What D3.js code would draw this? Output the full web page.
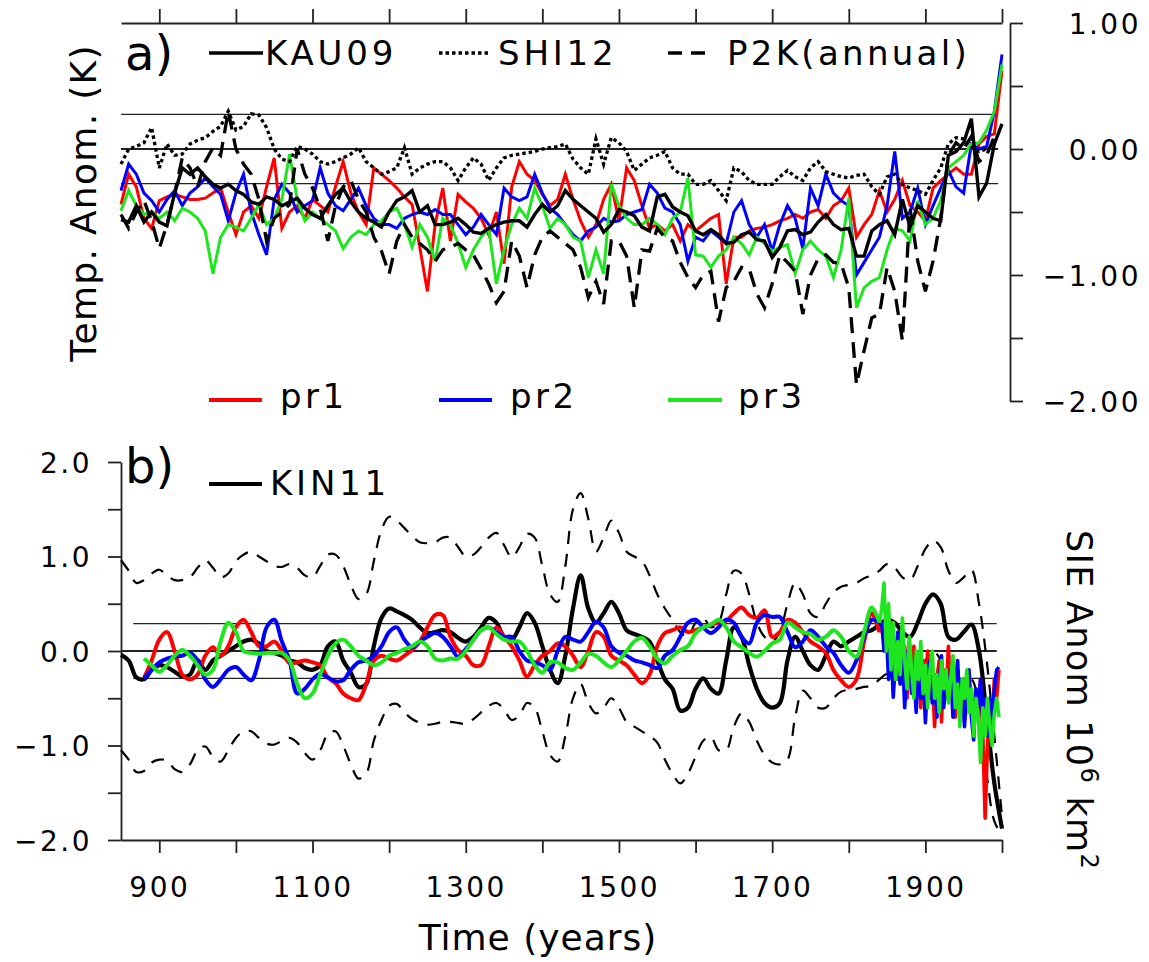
<!DOCTYPE html>
<html><head><meta charset="utf-8">
<script src="https://cdn.jsdelivr.net/npm/d3@7/dist/d3.min.js"></script>
<style>
body{margin:0;background:#fff;}
svg text{font-family:"DejaVu Sans",sans-serif;fill:#000;}
</style></head><body>
<svg id="chart" width="1149" height="962"></svg>
<script>
// ---------- Panel a: temperature anomaly (K), decadal, 850..2000 ----------
const yearsA = d3.range(850, 2001, 10);
const kau09 = [
 -0.56,-0.58,-0.45,-0.58,-0.50,-0.58,-0.61,-0.35,-0.15,-0.20,
 -0.15,-0.22,-0.28,-0.31,-0.28,-0.33,-0.36,-0.42,-0.44,-0.38,
 -0.40,-0.45,-0.42,-0.39,-0.47,-0.52,-0.55,-0.45,-0.36,-0.31,
 -0.42,-0.50,-0.55,-0.58,-0.62,-0.50,-0.41,-0.38,-0.33,-0.50,
 -0.45,-0.60,-0.60,-0.58,-0.55,-0.60,-0.66,-0.67,-0.63,-0.60,
 -0.58,-0.57,-0.57,-0.62,-0.52,-0.44,-0.50,-0.45,-0.33,-0.40,
 -0.45,-0.50,-0.55,-0.66,-0.60,-0.48,-0.50,-0.53,-0.62,-0.65,
 -0.38,-0.36,-0.46,-0.50,-0.53,-0.65,-0.68,-0.64,-0.68,-0.75,
 -0.74,-0.68,-0.66,-0.72,-0.73,-0.86,-0.78,-0.65,-0.64,-0.68,
 -0.66,-0.58,-0.52,-0.60,-0.64,-0.63,-0.85,-0.85,-0.65,-0.60,
 -0.57,-0.68,-0.40,-0.62,-0.45,-0.50,-0.55,-0.57,-0.05,-0.02,
  0.05, 0.24,-0.38,-0.27, 0.04, 0.20];
const shi12 = [
 -0.12, 0.00, 0.02, 0.05, 0.17,-0.15, 0.04,-0.05,-0.04, 0.04,
  0.07, 0.09, 0.14, 0.18, 0.30, 0.15, 0.18, 0.28, 0.27, 0.17,
  0.00,-0.08,-0.10, 0.02, 0.00,-0.04,-0.10,-0.12,-0.10,-0.07,
 -0.04, 0.01,-0.10,-0.15,-0.20,-0.18,-0.15, 0.01,-0.20,-0.15,
 -0.12,-0.10,-0.10,-0.15,-0.25,-0.15,-0.07,-0.12,-0.25,-0.15,
 -0.07,-0.05,-0.04,-0.03,-0.02, 0.00, 0.01, 0.02, 0.04,-0.08,
 -0.15,-0.20, 0.08,-0.12, 0.09, 0.05,-0.02,-0.17,-0.12,-0.07,
 -0.05,-0.02,-0.15,-0.20,-0.20,-0.28,-0.28,-0.25,-0.33,-0.41,
 -0.15,-0.18,-0.25,-0.28,-0.28,-0.28,-0.22,-0.17,-0.22,-0.25,
 -0.15,-0.10,-0.18,-0.20,-0.22,-0.23,-0.21,-0.20,-0.30,-0.36,
 -0.22,-0.20,-0.28,-0.31,-0.33,-0.36,-0.25,-0.15, 0.04, 0.09,
  0.08, 0.02,-0.02, 0.00, null, null];
const p2k = [
 -0.52,-0.63,-0.50,-0.41,-0.57,-0.79,-0.60,-0.35,-0.07,-0.15,
 -0.30,-0.10, 0.01,-0.05, 0.30, 0.00,-0.12,-0.20,-0.40,-0.73,
 -0.55,-0.50,-0.44, 0.00,-0.20,-0.31,-0.47,-0.73,-0.45,-0.30,
 -0.25,-0.40,-0.50,-0.70,-0.81,-0.99,-0.73,-0.60,-0.70,-0.75,
 -0.80,-0.89,-0.80,-0.78,-0.75,-0.80,-0.84,-0.95,-1.07,-1.22,
 -1.13,-0.73,-0.85,-1.10,-0.84,-0.70,-0.65,-0.70,-0.75,-0.80,
 -0.94,-1.18,-1.05,-1.23,-0.73,-0.73,-0.85,-1.26,-0.80,-0.81,
 -0.63,-0.70,-0.73,-0.90,-1.02,-1.10,-1.00,-0.97,-1.37,-1.10,
 -1.05,-0.94,-0.95,-1.15,-1.26,-1.07,-0.84,-0.90,-0.97,-1.31,
 -1.00,-0.87,-0.84,-0.90,-0.91,-1.10,-1.87,-1.60,-1.34,-1.31,
 -0.94,-1.13,-1.52,-0.47,-0.89,-1.13,-0.89,-0.55,-0.05, 0.05,
  0.00, 0.10,-0.10,-0.05, 0.10, null];
const pr1A = [
 -0.44,-0.20,-0.30,-0.55,-0.63,-0.41,-0.38,-0.36,-0.38,-0.40,
 -0.40,-0.39,-0.35,-0.31,-0.50,-0.68,-0.50,-0.45,-0.55,-0.30,
 -0.07,-0.63,-0.50,-0.45,-0.55,-0.40,-0.45,-0.50,-0.30,-0.10,
 -0.35,-0.50,-0.60,-0.15,-0.20,-0.25,-0.31,-0.38,-0.44,-0.78,
 -1.13,-0.60,-0.31,-0.73,-0.36,-0.42,-0.47,-0.55,-0.68,-0.50,
 -0.91,-0.30,-0.10,-0.20,-0.25,-0.36,-0.45,-0.40,-0.20,-0.40,
 -0.57,-0.70,-0.60,-0.40,-0.28,-0.57,-0.15,-0.25,-0.45,-0.63,
 -0.60,-0.65,-0.60,-0.73,-0.60,-0.65,-0.60,-0.55,-0.52,-1.07,
 -0.70,-0.70,-0.65,-0.63,-0.62,-0.60,-0.57,-0.55,-0.52,-0.55,
 -0.50,-0.48,-0.55,-0.45,-0.41,-0.31,-0.70,-0.60,-0.52,-0.33,
 -0.50,-0.40,-0.25,-0.45,-0.50,-0.57,-0.31,-0.25,-0.20,-0.15,
 -0.20,-0.20, 0.04, 0.10, 0.12, 0.62];
const pr2A = [
 -0.33,-0.12,-0.20,-0.35,-0.41,-0.50,-0.40,-0.33,-0.45,-0.35,
 -0.30,-0.23,-0.30,-0.36,-0.57,-0.35,-0.20,-0.50,-0.68,-0.84,
 -0.40,-0.28,-0.35,-0.50,-0.45,-0.41,-0.15,-0.35,-0.45,-0.49,
 -0.40,-0.31,-0.45,-0.55,-0.60,-0.60,-0.63,-0.55,-0.52,-0.50,
 -0.52,-0.48,-0.52,-0.52,-0.60,-0.68,-0.62,-0.52,-0.60,-0.68,
 -0.31,-0.38,-0.41,-0.38,-0.20,-0.35,-0.47,-0.52,-0.60,-0.68,
 -0.73,-0.65,-0.62,-0.55,-0.58,-0.57,-0.52,-0.50,-0.48,-0.28,
 -0.35,-0.47,-0.50,-0.60,-0.89,-0.70,-0.73,-0.65,-0.70,-0.75,
 -0.50,-0.41,-0.60,-0.70,-0.60,-0.81,-0.60,-0.45,-0.55,-0.79,
 -0.31,-0.45,-0.20,-0.35,-0.41,-0.45,-1.00,-0.90,-0.80,-0.70,
 -0.45,-0.02,-0.55,-0.50,-0.31,-0.60,-0.45,-0.31,-0.17,-0.30,
 -0.35, 0.04, 0.00, 0.02, 0.30, 0.75];
const pr3A = [
 -0.49,-0.33,-0.45,-0.52,-0.50,-0.55,-0.50,-0.57,-0.47,-0.50,
 -0.55,-0.65,-0.99,-0.70,-0.60,-0.62,-0.65,-0.55,-0.44,-0.60,
 -0.55,-0.40,-0.04,-0.40,-0.57,-0.50,-0.55,-0.60,-0.65,-0.79,
 -0.70,-0.65,-0.68,-0.60,-0.57,-0.50,-0.47,-0.60,-0.78,-0.60,
 -0.70,-0.89,-0.55,-0.60,-0.75,-0.94,-0.80,-0.70,-0.63,-1.07,
 -0.80,-0.60,-0.47,-0.55,-0.31,-0.45,-0.63,-0.55,-0.60,-0.70,
 -0.73,-1.02,-0.80,-0.99,-0.28,-0.45,-0.55,-0.60,-0.60,-0.55,
 -0.60,-0.68,-0.55,-0.50,-0.23,-0.84,-0.85,-0.94,-0.85,-0.80,
 -0.70,-0.75,-0.84,-0.70,-0.75,-0.81,-0.78,-0.76,-0.99,-0.80,
 -0.73,-0.80,-0.85,-1.02,-0.80,-0.39,-1.26,-1.10,-1.05,-1.02,
 -0.80,-0.63,-0.65,-0.73,-0.41,-0.60,-0.55,-0.41,-0.15,-0.10,
 -0.05, 0.04, 0.05, 0.15, 0.30, 0.67];
const refA = [0.275, 0, -0.275];
const ticksTopA = [900,1000,1100,1200,1300,1400,1500,1600,1700,1800,1900,2000];
const ticksRightA = [-2,-1.5,-1,-0.5,0,0.5,1];

// ---------- Panel b: sea-ice extent anomaly (10^6 km^2) ----------
const yearsB = d3.range(850, 2001, 10);
const kin11 = [
 -0.04,-0.10,-0.28,-0.30,-0.20,-0.15,-0.17,-0.22,-0.27,-0.25,
 -0.10,-0.20,-0.10,-0.05, 0.00, 0.05, 0.10, 0.12, 0.08, 0.00,
 -0.02,-0.05,-0.10,-0.12,-0.18,-0.20,-0.15, 0.05, 0.10,-0.10,
 -0.23,-0.38,-0.35, 0.05, 0.35, 0.45, 0.42, 0.38, 0.33, 0.25,
  0.19, 0.20, 0.22, 0.20, 0.14, 0.10, 0.15, 0.25, 0.35, 0.30,
  0.15, 0.12, 0.25, 0.40, 0.30, 0.05,-0.20,-0.34,-0.05, 0.45,
  0.80, 0.45, 0.30, 0.40, 0.52, 0.40, 0.22, 0.18, 0.15, 0.10,
 -0.10,-0.30,-0.40,-0.63,-0.60,-0.40,-0.29,-0.40,-0.45,-0.10,
  0.25, 0.15,-0.15,-0.40,-0.55,-0.60,-0.55,-0.10, 0.15, 0.00,
 -0.15,-0.20,-0.05, 0.10, 0.05, 0.10, 0.15, 0.20, 0.22, 0.28,
  0.33, 0.30, 0.20, 0.15, 0.30, 0.50, 0.60, 0.50, 0.15, 0.12,
  0.20, 0.28, 0.00,-0.70,-1.40,-1.88];
const kin11Upper = [
  0.96, 0.85, 0.72, 0.75, 0.82, 0.86, 0.80, 0.75, 0.75, 0.78,
  0.88, 0.96, 0.88, 0.78, 0.82, 0.95, 1.02, 1.05, 1.00, 0.95,
  0.90, 0.89, 0.92, 0.88, 0.80, 0.78, 0.90, 1.02, 1.02, 0.90,
  0.70, 0.55, 0.60, 0.95, 1.28, 1.42, 1.38, 1.30, 1.22, 1.15,
  1.14, 1.15, 1.20, 1.20, 1.10, 1.00, 1.02, 1.10, 1.20, 1.25,
  1.12, 0.99, 1.10, 1.24, 1.20, 0.90, 0.60, 0.52, 0.90, 1.50,
  1.67, 1.40, 1.05, 1.20, 1.38, 1.25, 1.05, 1.00, 0.95, 0.80,
  0.60, 0.45, 0.33, 0.20, 0.15, 0.30, 0.35, 0.25, 0.30, 0.60,
  0.85, 0.82, 0.60, 0.30, 0.15, 0.10, 0.20, 0.50, 0.72, 0.60,
  0.40, 0.36, 0.50, 0.62, 0.68, 0.70, 0.72, 0.77, 0.80, 0.85,
  0.92, 0.88, 0.78, 0.75, 0.90, 1.08, 1.17, 1.10, 0.85, 0.72,
  0.78, 0.86, 0.50,-0.10,-0.90,-1.75];
const kin11Lower = [
 -1.05,-1.15,-1.28,-1.27,-1.18,-1.15,-1.16,-1.25,-1.28,-1.20,
 -1.05,-1.01,-1.12,-1.17,-1.05,-0.92,-0.85,-0.85,-0.92,-0.98,
 -0.99,-0.95,-0.92,-0.97,-1.08,-1.15,-1.05,-0.88,-0.85,-1.00,
 -1.20,-1.35,-1.30,-0.95,-0.73,-0.58,-0.56,-0.65,-0.72,-0.76,
 -0.78,-0.77,-0.75,-0.75,-0.76,-0.77,-0.72,-0.65,-0.58,-0.55,
 -0.62,-0.73,-0.68,-0.55,-0.60,-0.85,-1.10,-1.17,-0.90,-0.50,
 -0.35,-0.55,-0.66,-0.60,-0.50,-0.60,-0.75,-0.80,-0.85,-0.90,
 -0.97,-1.15,-1.30,-1.40,-1.30,-1.12,-0.95,-0.91,-1.05,-1.05,
 -0.80,-0.66,-0.75,-0.95,-1.10,-1.18,-1.20,-1.15,-0.70,-0.42,
 -0.50,-0.60,-0.60,-0.50,-0.43,-0.41,-0.40,-0.38,-0.37,-0.30,
 -0.24,-0.25,-0.35,-0.40,-0.25,-0.10, 0.00,-0.10,-0.40,-0.45,
 -0.35,-0.30,-0.60,-1.30,-1.80,-1.95];
// smooth part of pr1..pr3 (decadal, 880..1840)
const yearsBSmooth = d3.range(880, 1841, 10);
const pr1B = [
 -0.29,-0.10, 0.12, 0.20, 0.00,-0.25,-0.30,-0.25,-0.05, 0.04,
 -0.05, 0.05, 0.25, 0.33, 0.20, 0.05, 0.05, 0.10, 0.00,-0.13,
 -0.12,-0.10,-0.12,-0.15,-0.28,-0.34,-0.45,-0.50,-0.52,-0.35,
 -0.10,-0.05,-0.08,-0.10,-0.05, 0.01, 0.10, 0.25, 0.38, 0.38,
  0.15, 0.01,-0.05,-0.15,-0.15, 0.05, 0.25, 0.15, 0.05,-0.10,
 -0.27,-0.15,-0.05, 0.00, 0.08, 0.05,-0.05,-0.17, 0.00, 0.20,
  0.15,-0.05,-0.10,-0.15,-0.25,-0.34,-0.25, 0.05, 0.19, 0.22,
  0.25, 0.20, 0.22, 0.25, 0.28, 0.30, 0.32, 0.40, 0.46, 0.38,
  0.35, 0.43, 0.15, 0.20, 0.33, 0.30, 0.20, 0.10, 0.05,-0.02,
 -0.20,-0.31,-0.38,-0.30, 0.10, 0.40, 0.20];
const pr2B = [
 -0.29,-0.20,-0.12,-0.08,-0.06,-0.05,-0.02,-0.10,-0.30,-0.38,
 -0.30,-0.20,-0.17,-0.25,-0.31,-0.10, 0.25, 0.33, 0.10,-0.10,
 -0.45,-0.40,-0.30,-0.24,-0.28,-0.32,-0.31,-0.20,-0.12,-0.10,
 -0.05, 0.05, 0.20, 0.25, 0.12, 0.04, 0.10, 0.15, 0.19, 0.15,
  0.05,-0.06, 0.02, 0.12, 0.22, 0.25, 0.20, 0.15, 0.15, 0.00,
 -0.10,-0.12,-0.15,-0.20, 0.00, 0.15, 0.12, 0.10, 0.20, 0.31,
  0.25, 0.05,-0.02,-0.05,-0.10,-0.12,-0.15,-0.18,-0.05, 0.01,
  0.15, 0.30, 0.33, 0.25, 0.19, 0.25, 0.33, 0.30, 0.15, 0.08,
  0.30, 0.38, 0.36, 0.36, 0.20, 0.04, 0.10, 0.22, 0.15, 0.05,
 -0.02,-0.15,-0.23,-0.10, 0.15, 0.33, 0.30];
const pr3B = [
 -0.08,-0.15,-0.22,-0.15,-0.05, 0.01,-0.05,-0.15,-0.25,-0.20,
  0.10, 0.30, 0.20, 0.00,-0.02,-0.03,-0.02,-0.02,-0.02,-0.10,
 -0.35,-0.50,-0.45,-0.25,-0.05, 0.08, 0.12, 0.05,-0.05,-0.10,
 -0.15,-0.12,-0.05,-0.02, 0.02, 0.05, 0.10, 0.05,-0.08,-0.10,
 -0.08,-0.08, 0.00, 0.12, 0.22, 0.25, 0.18, 0.12, 0.10, 0.10,
  0.00,-0.15,-0.23,-0.12,-0.12,-0.18,-0.20,-0.12,-0.03,-0.05,
 -0.12,-0.17,-0.10, 0.00, 0.10, 0.14, 0.05,-0.08,-0.13,-0.05,
  0.01, 0.05, 0.19, 0.25, 0.28, 0.33, 0.25, 0.10, 0.04,-0.02,
 -0.06, 0.00, 0.08, 0.12, 0.30, 0.25, 0.20, 0.18, 0.12, 0.15,
  0.22, 0.15, 0.00,-0.06, 0.20, 0.46, 0.30];
// high-frequency part (every 3 years, 1843..1996)
const yearsBTail = d3.range(1843, 1997, 3);
const pr1BTail = [
  0.25, 0.10, 0.35,-0.20, 0.30,-0.35, 0.10,-0.30, 0.20,-0.15,
  0.05,-0.50,-0.10,-0.30, 0.05,-0.45,-0.20,-0.60,-0.10,-0.40,
  0.00,-0.50,-0.25,-0.80,-0.30,-0.10,-0.75,-0.20,-0.50, 0.05,
 -0.45,-0.30,-0.70,-0.20,-0.55,-0.35,-0.65,-0.30,-0.60,-0.40,
 -0.80,-0.50,-0.70,-0.30,-0.90,-1.77,-1.00,-0.60,-0.80,-0.30,
 -0.50,-0.20];
const pr2BTail = [
  0.30, 0.00, 0.20,-0.30, 0.15,-0.49,-0.10, 0.20,-0.35, 0.00,
 -0.60,-0.15, 0.10,-0.45,-0.20,-0.65,-0.05,-0.50,-0.20,-0.76,
 -0.30,-0.10,-0.55,-0.25,-0.70,-0.35,-0.05,-0.60,-0.30,-0.50,
 -0.20,-0.70,-0.40,-0.10,-0.60,-0.30,-0.80,-0.45,-0.20,-0.70,
 -0.94,-0.40,-0.60,-0.30,-0.75,-0.50,-0.90,-0.50,-0.70,-0.40,
 -0.20,-0.17];
const pr3BTail = [
  0.45, 0.72, 0.00, 0.50,-0.20, 0.30,-0.30, 0.10,-0.25, 0.35,
 -0.10,-0.40, 0.15,-0.20,-0.50, 0.00,-0.30, 0.10,-0.45,-0.15,
 -0.60,-0.20, 0.00,-0.50,-0.25,-0.65,-0.10,-0.40,-0.20,-0.55,
 -0.30,-0.05,-0.60,-0.35,-0.80,-0.30,-0.50,-0.20,-0.65,-0.40,
 -0.90,-0.50,-0.70,-1.18,-0.60,-0.90,-0.50,-0.80,-1.00,-0.66,
 -0.50,-0.70];
const refB = [0.29, 0, -0.29];
const refBStart = [866, 850, 866];
const ticksLeftB = [-2,-1.5,-1,-0.5,0,0.5,1,1.5,2];
const ticksBottom = [900,1000,1100,1200,1300,1400,1500,1600,1700,1800,1900,2000];
const labelledYears = [900,1100,1300,1500,1700,1900];

// ---------- drawing ----------
const RED = "#ff0000", BLUE = "#0000ff", GREEN = "#1ee61e";
const svg = d3.select("#chart");
const x = d3.scaleLinear().domain([850, 2000]).range([121, 1002]);
const ya = d3.scaleLinear().domain([-2, 1]).range([401, 23]);
const yb = d3.scaleLinear().domain([-2, 2]).range([840, 462]);
const AX = "#222";

function styleAxis(g){
  g.selectAll("path.domain").attr("stroke", AX).attr("stroke-width", 1.8);
  g.selectAll(".tick line").attr("stroke", AX).attr("stroke-width", 1.8);
  g.selectAll("text").style("font-family", '"DejaVu Sans",sans-serif')
   .style("font-size", "28px").style("letter-spacing", "2.5px").attr("fill", "#000");
}

// Panel a axes
const gTop = svg.append("g").attr("transform", "translate(0,23)")
  .call(d3.axisTop(x).tickValues(ticksTopA).tickSize(14).tickSizeOuter(0).tickFormat(""));
styleAxis(gTop);
const fmtA = d3.format(".2f");
const gRight = svg.append("g").attr("transform", "translate(1010,0)")
  .call(d3.axisRight(ya).tickValues(ticksRightA).tickSize(13).tickSizeOuter(0)
    .tickFormat(d => Number.isInteger(d) ? fmtA(d) : ""));
styleAxis(gRight);
gRight.selectAll("text").attr("x", 131).attr("dy", "0.36em").attr("text-anchor", "end");

// Panel b axes
const fmtB = d3.format(".1f");
const gLeft = svg.append("g").attr("transform", "translate(121,0)")
  .call(d3.axisLeft(yb).tickValues(ticksLeftB).tickSize(13).tickSizeOuter(0)
    .tickFormat(d => Number.isInteger(d) ? fmtB(d) : ""));
styleAxis(gLeft);
gLeft.selectAll("text").attr("x", -29).attr("dy", "0.36em").attr("text-anchor", "end");
const gBottom = svg.append("g").attr("transform", "translate(0,840)")
  .call(d3.axisBottom(x).tickValues(ticksBottom).tickSize(13).tickSizeOuter(0)
    .tickFormat(d => labelledYears.includes(d) ? String(d) : ""));
styleAxis(gBottom);
gBottom.selectAll("text").attr("y", 57).attr("dy", 0);

// reference lines
const gRefA = svg.append("g");
refA.forEach(v => {
  gRefA.append("line").attr("x1", x(850)).attr("x2", x(1995))
    .attr("y1", ya(v)).attr("y2", ya(v))
    .attr("stroke", AX).attr("stroke-width", v === 0 ? 2.2 : 1.4);
});
const gRefB = svg.append("g");
refB.forEach((v, i) => {
  gRefB.append("line").attr("x1", x(refBStart[i])).attr("x2", x(1993))
    .attr("y1", yb(v)).attr("y2", yb(v))
    .attr("stroke", AX).attr("stroke-width", v === 0 ? 2.2 : 1.4);
});

// Panel a lines
function lineA(years, vals){
  return d3.line().defined(d => d[1] !== null)
    .x(d => x(d[0])).y(d => ya(d[1]))(years.map((y, i) => [y, vals[i]]));
}
function drawA(vals, color, width, dash){
  const p = svg.append("path").attr("d", lineA(yearsA, vals))
    .attr("fill", "none").attr("stroke", color).attr("stroke-width", width);
  if (dash) p.attr("stroke-dasharray", dash);
}
drawA(pr1A, RED, 3);
drawA(pr2A, BLUE, 3);
drawA(pr3A, GREEN, 3);
drawA(p2k, "#000", 3.3, "16,9");
drawA(shi12, "#000", 3.3, "3.5,3");
drawA(kau09, "#000", 3.4);

// Panel b lines
function lineB(years, vals, curve){
  return d3.line().curve(curve).x(d => x(d[0])).y(d => yb(d[1]))(years.map((y, i) => [y, vals[i]]));
}
function drawB(years, vals, color, width, curve, dash){
  const p = svg.append("path").attr("d", lineB(years, vals, curve))
    .attr("fill", "none").attr("stroke", color).attr("stroke-width", width)
    .attr("stroke-linejoin", "round");
  if (dash) p.attr("stroke-dasharray", dash);
}
const smooth = d3.curveCatmullRom.alpha(0.5);
drawB(yearsB, kin11Upper, "#000", 2.2, smooth, "13,10");
drawB(yearsB, kin11Lower, "#000", 2.2, smooth, "13,10");
drawB(yearsB, kin11, "#000", 4.2, smooth);
[[pr1B, pr1BTail, RED], [pr2B, pr2BTail, BLUE], [pr3B, pr3BTail, GREEN]].forEach(([s, t, c]) => {
  drawB(yearsBSmooth, s, c, 4, smooth);
  const ty = [1840].concat(yearsBTail);
  const tv = [s[s.length - 1]].concat(t);
  drawB(ty, tv, c, 3.6, d3.curveLinear);
});

// Texts / legends
function txt(xp, yp, s, size, ls, anchor){
  return svg.append("text").attr("x", xp).attr("y", yp).text(s)
    .style("font-size", size + "px").style("letter-spacing", (ls || 0) + "px")
    .attr("text-anchor", anchor || "start");
}
txt(125, 70, "a)", 48, 0);
txt(125, 483, "b)", 48, 0);

function legLine(x1, x2, yp, color, width, dash){
  const l = svg.append("line").attr("x1", x1).attr("x2", x2).attr("y1", yp).attr("y2", yp)
    .attr("stroke", color).attr("stroke-width", width);
  if (dash) l.attr("stroke-dasharray", dash);
}
legLine(209, 263, 53, "#000", 3.4);
txt(265, 65, "KAU09", 34, 3.8);
legLine(439, 488, 53, "#000", 3.3, "3.5,3");
txt(498, 65, "SHI12", 34, 3.8);
legLine(668, 714, 53, "#000", 3.3, "14,9");
txt(727, 65, "P2K(annual)", 34, 3.3);

legLine(209, 262, 400, RED, 4);
txt(280, 408, "pr1", 34, 3.5);
legLine(439, 492, 400, BLUE, 4);
txt(510, 408, "pr2", 34, 3.5);
legLine(668, 722, 400, GREEN, 4);
txt(738, 408, "pr3", 34, 3.5);

legLine(209, 262, 484, "#000", 4);
txt(270, 495, "KIN11", 34, 3.8);

// axis titles
svg.append("text").attr("transform", "translate(96,203) rotate(-90)")
  .attr("text-anchor", "middle").style("font-size", "36px").style("letter-spacing", "1.3px")
  .text("Temp. Anom. (K)");
const sie = svg.append("text").attr("transform", "translate(1067,700) rotate(90)")
  .attr("text-anchor", "middle").style("font-size", "35px").style("letter-spacing", "1.3px");
sie.append("tspan").text("SIE Anom 10");
sie.append("tspan").attr("dy", -14).style("font-size", "24px").text("6");
sie.append("tspan").attr("dy", 14).text(" km");
sie.append("tspan").attr("dy", -14).style("font-size", "24px").text("2");
txt(538, 950, "Time (years)", 36, 1, "middle");
</script>
</body></html>
